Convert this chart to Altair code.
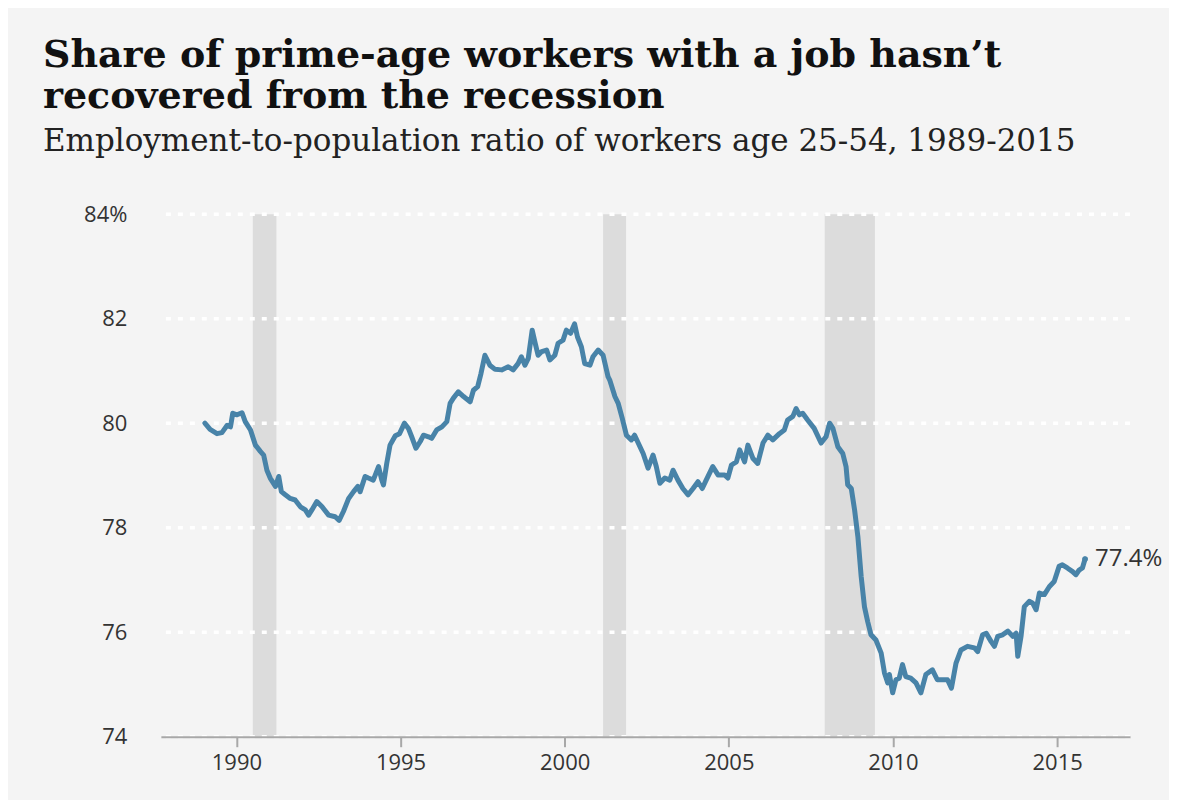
import altair as alt
import pandas as pd

# ---- data ----
years = [
    1989.04, 1989.20, 1989.41, 1989.56, 1989.72, 1989.82, 1989.89, 1990.02, 1990.17, 1990.27,
    1990.43, 1990.58, 1990.73, 1990.83, 1990.93, 1991.03, 1991.19, 1991.29, 1991.37, 1991.49,
    1991.64, 1991.79, 1991.95, 1992.10, 1992.20, 1992.30, 1992.45, 1992.61, 1992.81, 1993.01,
    1993.13, 1993.26, 1993.42, 1993.57, 1993.70, 1993.77, 1993.92, 1994.02, 1994.17, 1994.33,
    1994.43, 1994.48, 1994.58, 1994.68, 1994.84, 1994.97, 1995.12, 1995.24, 1995.34, 1995.47,
    1995.60, 1995.70, 1995.85, 1995.95, 1996.10, 1996.26, 1996.41, 1996.51, 1996.61, 1996.76,
    1996.92, 1997.12, 1997.22, 1997.35, 1997.45, 1997.57, 1997.72, 1997.88, 1998.08, 1998.28,
    1998.43, 1998.58, 1998.68, 1998.79, 1998.89, 1999.01, 1999.09, 1999.19, 1999.30, 1999.45,
    1999.55, 1999.70, 1999.80, 1999.95, 2000.05, 2000.18, 2000.30, 2000.39, 2000.51, 2000.61,
    2000.77, 2000.86, 2001.02, 2001.17, 2001.32, 2001.37, 2001.53, 2001.63, 2001.75, 2001.88,
    2002.03, 2002.13, 2002.24, 2002.39, 2002.54, 2002.69, 2002.79, 2002.90, 2003.05, 2003.20,
    2003.30, 2003.45, 2003.60, 2003.76, 2003.91, 2004.06, 2004.19, 2004.31, 2004.51, 2004.67,
    2004.87, 2004.97, 2005.08, 2005.23, 2005.33, 2005.48, 2005.58, 2005.73, 2005.88, 2006.04,
    2006.19, 2006.34, 2006.54, 2006.69, 2006.79, 2006.95, 2007.05, 2007.15, 2007.25, 2007.40,
    2007.60, 2007.81, 2007.96, 2008.07, 2008.17, 2008.32, 2008.47, 2008.57, 2008.62, 2008.73,
    2008.83, 2008.93, 2009.03, 2009.13, 2009.23, 2009.33, 2009.48, 2009.64, 2009.74, 2009.84,
    2009.89, 2009.99, 2010.09, 2010.19, 2010.29, 2010.39, 2010.54, 2010.70, 2010.85, 2011.00,
    2011.20, 2011.35, 2011.50, 2011.66, 2011.78, 2011.92, 2012.07, 2012.27, 2012.48, 2012.58,
    2012.73, 2012.84, 2012.99, 2013.09, 2013.19, 2013.34, 2013.50, 2013.65, 2013.75, 2013.80,
    2013.90, 2014.00, 2014.15, 2014.25, 2014.36, 2014.46, 2014.61, 2014.76, 2014.91, 2015.06,
    2015.16, 2015.31, 2015.47, 2015.57, 2015.67, 2015.77, 2015.85,
]
ratio = [
    80.00, 79.88, 79.80, 79.82, 79.96, 79.93, 80.19, 80.16, 80.20, 80.03,
    79.87, 79.58, 79.46, 79.39, 79.10, 78.95, 78.79, 78.98, 78.69, 78.63,
    78.56, 78.53, 78.40, 78.34, 78.24, 78.34, 78.50, 78.40, 78.24, 78.21,
    78.14, 78.31, 78.56, 78.69, 78.79, 78.69, 78.98, 78.95, 78.91, 79.17,
    78.91, 78.82, 79.23, 79.58, 79.76, 79.80, 80.00, 79.90, 79.74, 79.52,
    79.65, 79.77, 79.74, 79.71, 79.87, 79.93, 80.03, 80.38, 80.48, 80.60,
    80.51, 80.41, 80.63, 80.70, 80.95, 81.30, 81.11, 81.03, 81.02, 81.08,
    81.02, 81.14, 81.27, 81.11, 81.24, 81.78, 81.56, 81.30, 81.37, 81.40,
    81.21, 81.30, 81.53, 81.59, 81.78, 81.72, 81.90, 81.65, 81.46, 81.14,
    81.11, 81.27, 81.40, 81.30, 80.89, 80.83, 80.51, 80.38, 80.10, 79.77,
    79.68, 79.77, 79.62, 79.42, 79.14, 79.39, 79.17, 78.85, 78.95, 78.91,
    79.10, 78.91, 78.75, 78.63, 78.75, 78.88, 78.75, 78.91, 79.17, 79.01,
    79.01, 78.95, 79.20, 79.26, 79.49, 79.26, 79.58, 79.33, 79.23, 79.62,
    79.77, 79.68, 79.80, 79.87, 80.06, 80.13, 80.28, 80.16, 80.19, 80.06,
    79.90, 79.62, 79.74, 80.00, 79.90, 79.55, 79.42, 79.17, 78.82, 78.75,
    78.34, 77.83, 77.07, 76.49, 76.20, 75.95, 75.85, 75.60, 75.22, 75.03,
    75.19, 74.84, 75.09, 75.12, 75.38, 75.15, 75.12, 75.03, 74.84, 75.19,
    75.28, 75.09, 75.09, 75.09, 74.93, 75.41, 75.66, 75.73, 75.70, 75.63,
    75.95, 75.98, 75.82, 75.73, 75.92, 75.95, 76.02, 75.92, 75.98, 75.54,
    75.92, 76.49, 76.59, 76.56, 76.43, 76.75, 76.72, 76.87, 76.97, 77.26,
    77.29, 77.23, 77.16, 77.10, 77.19, 77.23, 77.40,
]

recession_start = [1990.50, 2001.17, 2007.92]
recession_end = [1991.22, 2001.87, 2009.45]

x_ticks = [1990, 1995, 2000, 2005, 2010, 2015]
y_ticks = [74, 76, 78, 80, 82, 84]
y_tick_labels = ["74", "76", "78", "80", "82", "84%"]
end_label = "77.4%"

title_lines = ["Share of prime-age workers with a job hasn\u2019t", "recovered from the recession"]
subtitle = "Employment-to-population ratio of workers age 25-54, 1989-2015"

# ---- tables ----
df = pd.DataFrame({"year": years, "ratio": ratio})
rec_df = pd.DataFrame({"start": recession_start, "end": recession_end})
grid_df = pd.DataFrame({"v": y_ticks})
last_df = df.tail(1).assign(label=end_label)

LINE = "#4883a8"
TXT = "#333333"

label_expr = " : ".join(
    [f"datum.value == {v} ? '{l}'" for v, l in zip(y_ticks, y_tick_labels)]
) + " : datum.label"

xscale = alt.Scale(domain=[1987.70, 2017.22], nice=False, zero=False)
yscale = alt.Scale(domain=[74, 84], nice=False, zero=False)

xaxis = alt.Axis(
    values=x_ticks, format="d", grid=False, title=None,
    domainColor="#a8a8a8", domainWidth=2, tickColor="#a8a8a8", tickWidth=2,
    tickSize=10, labelFont="Open Sans", labelFontSize=22, labelColor=TXT,
    labelPadding=6, zindex=1,
)
yaxis = alt.Axis(
    values=y_ticks, grid=False, title=None, domain=False, ticks=False, tickSize=0,
    labelPadding=34, labelExpr=label_expr, labelFont="Open Sans", labelFontSize=22,
    labelColor=TXT,
)

rects = alt.Chart(rec_df).mark_rect(color="#dcdcdc").encode(
    x=alt.X("start:Q", scale=xscale, axis=xaxis),
    x2="end:Q",
    y=alt.Y(datum=74, scale=yscale, axis=yaxis),
    y2=alt.datum(84),
)

grid = alt.Chart(grid_df).mark_rule(
    color="white", strokeWidth=3.5, strokeDash=[5, 7]
).encode(y=alt.Y("v:Q", scale=yscale, axis=yaxis))

line = alt.Chart(df).mark_line(
    color=LINE, strokeWidth=5, strokeJoin="round", strokeCap="round"
).encode(
    x=alt.X("year:Q", scale=xscale, axis=xaxis),
    y=alt.Y("ratio:Q", scale=yscale, axis=yaxis),
)

dot = alt.Chart(last_df).mark_circle(color=LINE, size=32, opacity=1).encode(
    x=alt.X("year:Q", scale=xscale, axis=xaxis),
    y=alt.Y("ratio:Q", scale=yscale, axis=yaxis),
)

label = alt.Chart(last_df).mark_text(
    align="left", baseline="middle", dx=10, font="Open Sans", fontSize=24, color=TXT
).encode(
    x=alt.X("year:Q", scale=xscale, axis=xaxis),
    y=alt.Y("ratio:Q", scale=yscale, axis=yaxis),
    text="label:N",
)

chart = alt.layer(rects, grid, line, dot, label).properties(
    width=970,
    height=523,
    autosize=alt.AutoSizeParams(type="none"),
    padding={"left": 153, "top": 206, "right": 39, "bottom": 63},
    background="#f4f4f4",
    title=alt.TitleParams(
        text=title_lines,
        subtitle=subtitle,
        anchor="start",
        frame="group",
        dx=-118,
        font="DejaVu Serif",
        fontSize=38,
        fontWeight="bold",
        color="#111111",
        lineHeight=41,
        subtitleFont="DejaVu Serif",
        subtitleFontSize=31,
        subtitleColor="#222222",
        subtitlePadding=11,
        offset=46,
    ),
).configure_view(stroke=None)

chart.save("out.html", embed_options={"renderer": "svg", "actions": False})
